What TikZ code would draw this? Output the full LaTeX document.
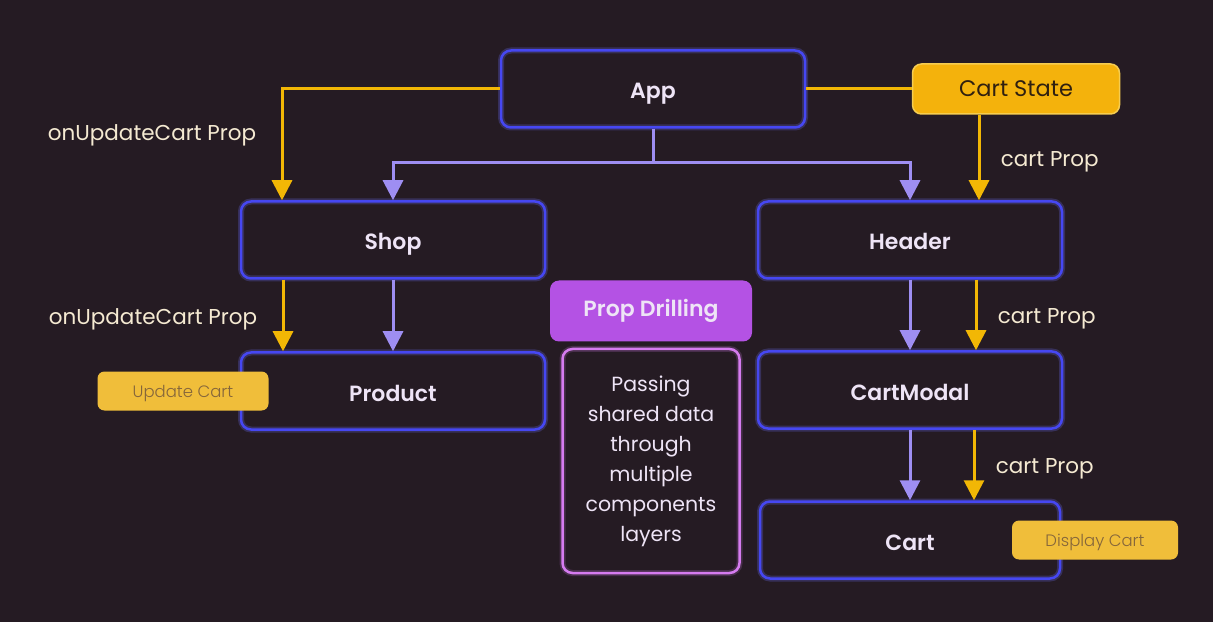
\documentclass[tikz,border=0pt]{standalone}
\usepackage{fontspec}
\setmainfont{Poppins}[BoldFont={Poppins SemiBold}]
\newfontfamily\lightfont{Poppins Light}
\usetikzlibrary{positioning,arrows.meta}

\definecolor{bgdark}{HTML}{251B23}
\definecolor{boxblue}{HTML}{4647F2}
\definecolor{glowblue}{HTML}{6F72FF}
\definecolor{boxtext}{HTML}{EEE4F6}
\definecolor{propyellow}{HTML}{F2B705}
\definecolor{stateyellow}{HTML}{F4B20C}
\definecolor{tagyellow}{HTML}{F0BE3A}
\definecolor{tagtext}{HTML}{85663A}
\definecolor{treepurple}{HTML}{9E8EF2}
\definecolor{drillviolet}{HTML}{B452E4}
\definecolor{notepink}{HTML}{D57BEF}
\definecolor{labelcream}{HTML}{F5EAD2}

\tikzset{
  comp/.style={rectangle, rounded corners=10pt, draw=boxblue, line width=2.5pt,
    preaction={draw=glowblue, line width=6pt, opacity=0.25},
    minimum width=304pt, minimum height=77pt, text=boxtext,
    text height=22pt, text depth=2pt,
    font=\fontsize{22}{26}\selectfont\bfseries},
  statebox/.style={rectangle, rounded corners=9pt, fill=stateyellow, draw=propyellow!70!white,
    line width=1.5pt, minimum width=207pt, minimum height=50pt, text=black!75!brown,
    font=\fontsize{22.5}{26}\selectfont},
  tagbox/.style={rectangle, rounded corners=7pt, fill=tagyellow, minimum height=39pt,
    text=tagtext, text height=14pt, text depth=2pt,
    font=\fontsize{16.5}{19}\selectfont\lightfont},
  drillbox/.style={rectangle, rounded corners=9pt, fill=drillviolet, minimum width=202pt,
    minimum height=61pt, text=boxtext, font=\fontsize{22}{26}\selectfont\bfseries},
  notebox/.style={rectangle, rounded corners=10pt, draw=notepink, line width=2.5pt,
    preaction={draw=notepink, line width=6pt, opacity=0.2},
    minimum width=177pt, minimum height=224pt, align=center, text=boxtext,
    font=\fontsize{20.5}{30}\selectfont},
  yprop/.style={draw=propyellow, line width=3pt},
  ytree/.style={draw=treepurple, line width=3pt},
  tip/.style={-{Triangle[width=20pt,length=20pt]}},
  proplabel/.style={text=labelcream, yshift=-4pt, font=\fontsize{21.5}{25}\selectfont}
}

\begin{document}
\begin{tikzpicture}[node distance=151pt,on grid]
  \fill[bgdark] (0,0) rectangle (1213pt,622pt);
  \useasboundingbox (0,0) rectangle (1213pt,622pt);

  \node[comp] (App) at (653pt,533pt) {App};
  \node[statebox] (CartState) [right=363pt of App] {Cart State};
  \node[comp] (Shop) [below left=151pt and 260pt of App] {Shop};
  \node[comp] (Header) [below right=151pt and 257pt of App] {Header};
  \node[comp] (Product) [below=of Shop] {Product};
  \node[comp] (CartModal) [below=150pt of Header] {CartModal};
  \node[comp, minimum width=300pt] (Cart) [below=150pt of CartModal] {Cart};
  \node[drillbox] (Drill) at (651pt,311pt) {Prop Drilling};
  \node[notebox] (Note) [below=150pt of Drill] {Passing\\shared data\\through\\multiple\\components\\layers};
  \node[tagbox, minimum width=171pt] (UpdateCart) [left=210pt of Product] {Update Cart};
  \node[tagbox, minimum width=166pt] (DisplayCart) [right=185pt of Cart] {Display Cart};

  % component tree
  \draw[ytree] (App.south) -- ++(0,-34pt) coordinate (split);
  \draw[ytree,tip] (split) -| (Shop.north);
  \draw[ytree,tip] (split) -| (Header.north);
  \draw[ytree,tip] (Shop.south) -- (Product.north);
  \draw[ytree,tip] (Header.south) -- (CartModal.north);
  \draw[ytree,tip] (CartModal.south) -- (Cart.north);

  % props
  \draw[yprop] (App.east) -- (CartState.west);
  \draw[yprop,tip] (App.west) -| node[proplabel, pos=0.69, left=21pt] {onUpdateCart Prop}
    ([xshift=-111pt]Shop.north);
  \draw[yprop,tip] ([xshift=-110pt]Shop.south) -- node[proplabel, left=21pt] {onUpdateCart Prop}
    ([xshift=-110pt]Product.north);
  \draw[yprop,tip] ([xshift=-37pt]CartState.south) -- node[proplabel, right=17pt] {cart Prop}
    ([xshift=-37pt]CartState.south |- Header.north);
  \draw[yprop,tip] ([xshift=66pt]Header.south) -- node[proplabel, right=17pt] {cart Prop}
    ([xshift=66pt]CartModal.north);
  \draw[yprop,tip] ([xshift=64pt]CartModal.south) -- node[proplabel, right=17pt] {cart Prop}
    ([xshift=64pt]Cart.north);
\end{tikzpicture}
\end{document}
